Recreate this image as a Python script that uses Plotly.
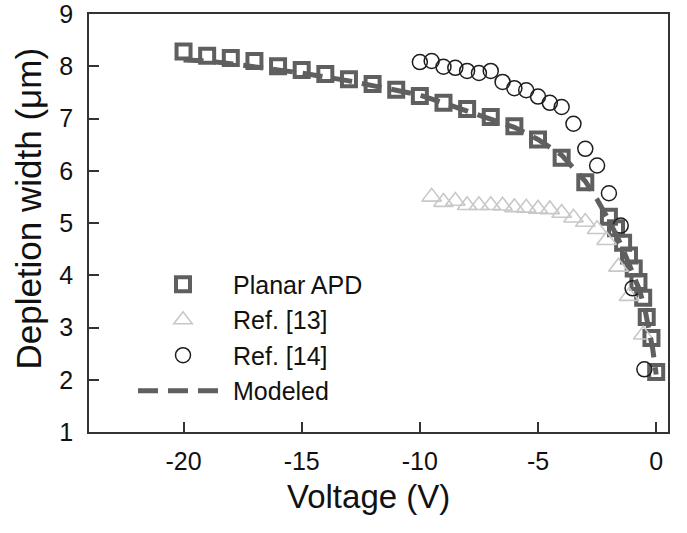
import plotly.graph_objects as go

# Planar APD (measured)
apd_v = [-20, -19, -18, -17, -16, -15, -14, -13, -12, -11, -10, -9, -8, -7, -6, -5, -4, -3,
         -2.0, -1.7, -1.4, -1.15, -0.95, -0.75, -0.55, -0.4, -0.2, 0.0]
apd_w = [8.28, 8.2, 8.16, 8.1, 8.0, 7.93, 7.85, 7.75, 7.66, 7.55, 7.43, 7.3, 7.18, 7.03, 6.85, 6.6, 6.25, 5.78,
         5.12, 4.9, 4.62, 4.38, 4.13, 3.87, 3.57, 3.2, 2.8, 2.15]

# Ref. [13]
r13_v = [-9.5, -9.0, -8.5, -8.0, -7.5, -7.0, -6.5, -6.0, -5.5, -5.0, -4.5, -4.0, -3.5, -3.0, -2.5, -2.1, -1.6, -1.15, -0.55]
r13_w = [5.5, 5.4, 5.42, 5.34, 5.34, 5.34, 5.33, 5.3, 5.29, 5.27, 5.26, 5.19, 5.1, 5.02, 4.88, 4.67, 4.16, 3.6, 2.86]

# Ref. [14]
r14_v = [-10.0, -9.5, -9.0, -8.5, -8.0, -7.5, -7.0, -6.5, -6.0, -5.5, -5.0, -4.5, -4.0, -3.5, -3.0, -2.5, -2.0, -1.5, -1.0, -0.5]
r14_w = [8.08, 8.1, 7.99, 7.97, 7.91, 7.87, 7.91, 7.7, 7.58, 7.54, 7.42, 7.3, 7.22, 6.9, 6.42, 6.1, 5.57, 4.95, 3.75, 2.2]

# Modeled
mod_v = [-20, -19, -18, -17, -16, -15, -14, -13, -12, -11, -10, -9, -8, -7, -6, -5, -4, -3, -2.5, -2, -1.5, -1, -0.7, -0.5, -0.3, -0.15, 0]
mod_w = [8.12, 8.1, 8.05, 8.0, 7.93, 7.87, 7.8, 7.72, 7.63, 7.55, 7.45, 7.3, 7.15, 7.0, 6.83, 6.6, 6.3, 5.8, 5.45, 5.05, 4.6, 4.05, 3.7, 3.4, 3.0, 2.6, 2.1]

# Axis ticks
x_ticks = [-20, -15, -10, -5, 0]
x_labels = ["-20", "-15", "-10", "-5", "0"]

FONT = "Liberation Sans, Arial, sans-serif"
DARK = "#5f5f5f"
AX = "#333333"

fig = go.Figure()
fig.add_trace(go.Scatter(x=apd_v, y=apd_w, mode="markers", name="Planar APD",
                         marker=dict(symbol="square-open", size=14, color=DARK, line=dict(width=4, color=DARK))))
fig.add_trace(go.Scatter(x=r13_v, y=r13_w, mode="markers", name="Ref. [13]",
                         marker=dict(symbol="triangle-up-open", size=17, color="#c8c8c8", line=dict(width=1.6, color="#c8c8c8"))))
fig.add_trace(go.Scatter(x=r14_v, y=r14_w, mode="markers", name="Ref. [14]",
                         marker=dict(symbol="circle-open", size=15, color="#1e1e1e", line=dict(width=1.5, color="#1e1e1e"))))
fig.add_trace(go.Scatter(x=mod_v, y=mod_w, mode="lines", name="Modeled",
                         line=dict(color=DARK, width=5, dash="20px,10px")))

fig.update_layout(
    width=687, height=533,
    margin=dict(l=89, r=19, t=14, b=101, autoexpand=False),
    paper_bgcolor="white", plot_bgcolor="white",
    font=dict(family=FONT, color="#111111", size=25),
    showlegend=True,
    legend=dict(x=0.076, y=0.408, xanchor="left", yanchor="top", bgcolor="rgba(0,0,0,0)",
                font=dict(size=25, family=FONT, color="#111111"), itemwidth=90, tracegroupgap=0),
    xaxis=dict(range=[-24, 0.5], tickvals=x_ticks, ticktext=x_labels, ticks="inside", ticklen=10, tickwidth=1.5,
               tickcolor=AX, showline=True, linecolor=AX, linewidth=1.5, mirror=True,
               showgrid=False, zeroline=False, tickfont=dict(size=25), ticklabelstandoff=6,
               ticklabeloverflow="allow", automargin=False),
    yaxis=dict(range=[1, 9], tickmode="linear", tick0=1, dtick=1, ticks="inside", ticklen=10, tickwidth=1.5,
               tickcolor=AX, showline=True, linecolor=AX, linewidth=1.5, mirror=True,
               showgrid=False, zeroline=False, tickfont=dict(size=25), ticklabelstandoff=9,
               ticklabeloverflow="allow", automargin=False),
    annotations=[
        dict(text="Depletion width (μm)", textangle=-90, xref="paper", yref="paper",
             x=-0.105, y=0.535, xanchor="center", yanchor="middle", showarrow=False,
             font=dict(size=35, family=FONT, color="#111111")),
        dict(text="Voltage (V)", xref="paper", yref="paper",
             x=0.482, y=-0.155, xanchor="center", yanchor="middle", showarrow=False,
             font=dict(size=33, family=FONT, color="#111111")),
    ],
)

fig.write_html("out.html")
